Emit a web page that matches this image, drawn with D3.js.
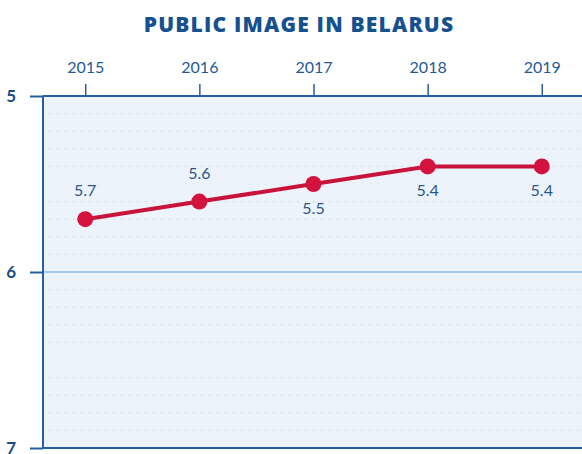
<!DOCTYPE html>
<html>
<head>
<meta charset="utf-8">
<script src="https://cdn.jsdelivr.net/npm/d3@7"></script>
<style>
  body { margin: 0; background: #fff; }
  svg { display: block; }
</style>
</head>
<body>
<svg id="chart" width="582" height="454"></svg>
<script>
// data
var years = ['2015', '2016', '2017', '2018', '2019'];
var ranks = [5.7, 5.6, 5.5, 5.4, 5.4];
var labelSide = ['above', 'above', 'below', 'below', 'below'];
var yTicks = [5, 6, 7];

var width = 582, height = 454;
var plotLeft = 43, plotTop = 96, plotBottom = 448, plotRight = 584;

var svg = d3.select('#chart');

var x = d3.scalePoint()
  .domain(years)
  .range([plotLeft, plotRight])
  .padding(0.37);

var y = d3.scaleLinear()
  .domain([5, 7])
  .range([plotTop, plotBottom]);

// plot background
svg.append('rect')
  .attr('x', plotLeft).attr('y', plotTop)
  .attr('width', width - plotLeft).attr('height', plotBottom - plotTop)
  .attr('fill', '#edf3fb');

// dotted minor grid every 0.1
var minor = d3.range(51, 70).map(function(d){ return d / 10 }).filter(function(d){ return Math.abs(d - 6) > 0.01 });
svg.append('g').selectAll('line')
  .data(minor)
  .enter()
  .append('line')
  .attr('x1', plotLeft + 6).attr('x2', width)
  .attr('y1', function(d){ return y(d) }).attr('y2', function(d){ return y(d) })
  .attr('stroke', '#c9d6e6')
  .attr('stroke-width', 1.2)
  .attr('stroke-dasharray', '1.5,6.5');

// line at 6
svg.append('line')
  .attr('x1', plotLeft).attr('x2', width)
  .attr('y1', y(6)).attr('y2', y(6))
  .attr('stroke', '#8dbbe3')
  .attr('stroke-width', 1.5);

var axisColor = '#245f9e';

// top x axis
var xAxis = svg.append('g')
  .attr('transform', 'translate(0,' + plotTop + ')')
  .call(d3.axisTop(x).tickSize(12).tickPadding(11));
xAxis.select('.domain').attr('d', 'M' + plotLeft + ',0H' + width).attr('stroke', axisColor).attr('stroke-width', 2);
xAxis.selectAll('.tick line').attr('stroke', axisColor).attr('stroke-width', 1.5);
xAxis.selectAll('.tick text')
  .attr('fill', '#1f5a96')
  .style('font-family', 'Lato, "Open Sans", sans-serif')
  .style('font-size', '16px');

// left y axis
var yAxis = svg.append('g')
  .attr('transform', 'translate(' + plotLeft + ',0)')
  .call(d3.axisLeft(y).tickValues(yTicks).tickFormat(d3.format('d')).tickSize(13).tickPadding(14));
yAxis.select('.domain').attr('d', 'M0,' + plotTop + 'V' + plotBottom).attr('stroke', axisColor).attr('stroke-width', 2);
yAxis.selectAll('.tick line').attr('stroke', axisColor).attr('stroke-width', 2);
yAxis.selectAll('.tick text')
  .attr('fill', '#1a4c86')
  .style('font-family', 'Lato, "Open Sans", sans-serif')
  .style('font-weight', 'bold')
  .style('font-size', '17px');

// bottom line
svg.append('line')
  .attr('x1', plotLeft).attr('x2', width)
  .attr('y1', plotBottom).attr('y2', plotBottom)
  .attr('stroke', axisColor)
  .attr('stroke-width', 2);

var pts = years.map(function(yr, i){ return { year: yr, value: ranks[i], side: labelSide[i] } });

var lineGen = d3.line()
  .x(function(d){ return x(d.year) })
  .y(function(d){ return y(d.value) });

svg.append('path')
  .datum(pts)
  .attr('d', lineGen)
  .attr('fill', 'none')
  .attr('stroke', '#c8143a')
  .attr('stroke-width', 4);

svg.selectAll('.dot')
  .data(pts)
  .enter()
  .append('circle')
  .attr('class', 'dot')
  .attr('cx', function(d){ return x(d.year) })
  .attr('cy', function(d){ return y(d.value) })
  .attr('r', 8)
  .attr('fill', '#d3123d');

svg.selectAll('.val')
  .data(pts)
  .enter()
  .append('text')
  .attr('class', 'val')
  .attr('x', function(d){ return x(d.year) })
  .attr('y', function(d){ return y(d.value) + (d.side === 'above' ? -23 : 30) })
  .attr('text-anchor', 'middle')
  .attr('fill', '#2a5888')
  .style('font-family', 'Lato, "Open Sans", sans-serif')
  .style('font-size', '16px')
  .text(function(d){ return d3.format('.1f')(d.value) });

// title
svg.append('text')
  .attr('x', 299).attr('y', 32)
  .attr('text-anchor', 'middle')
  .attr('fill', '#15508f')
  .style('font-family', '"Open Sans", Lato, sans-serif')
  .style('font-weight', '800')
  .style('font-size', '21px')
  .style('letter-spacing', '1.2px')
  .text('PUBLIC IMAGE IN BELARUS');
</script>
</body>
</html>
